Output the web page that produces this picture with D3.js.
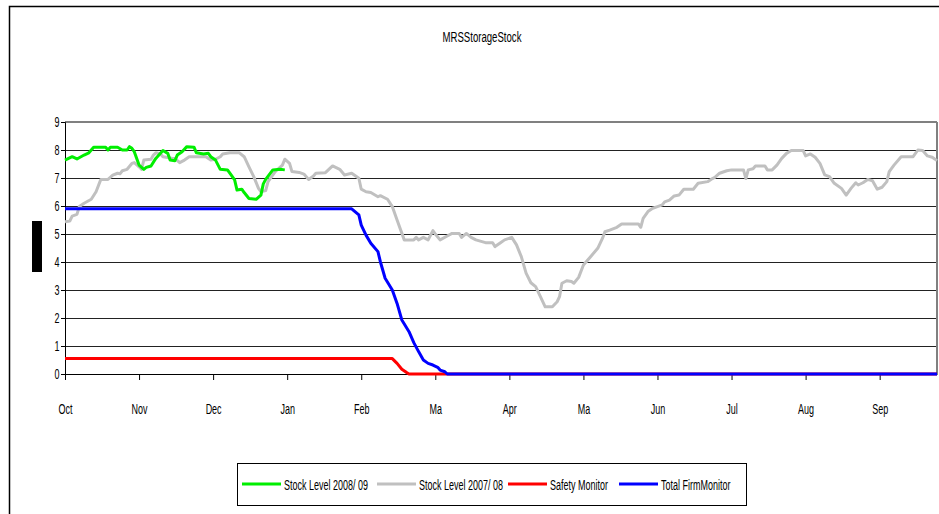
<!DOCTYPE html>
<html>
<head>
<meta charset="utf-8">
<script src="https://cdn.jsdelivr.net/npm/d3@7/dist/d3.min.js"></script>
<style>
  html, body { margin: 0; padding: 0; background: #fff; }
  svg { display: block; }
  text { font-family: "Liberation Sans", Arial, sans-serif; fill: #000; }
</style>
</head>
<body>
<svg id="chart" width="939" height="514"></svg>
<script>
// Storage stock, daily index from 1 Oct (0) to 30 Sep (365)
const title = "MRSStorageStock";
const monthLabels = ["Oct", "Nov", "Dec", "Jan", "Feb", "Ma", "Apr", "Ma", "Jun", "Jul", "Aug", "Sep"];
const monthTickDays = [0, 31, 62, 93, 124, 155, 186, 217, 248, 279, 310, 341];
const yTicks = [0, 1, 2, 3, 4, 5, 6, 7, 8, 9];

const seriesNames = ["Stock Level 2008/ 09", "Stock Level 2007/ 08", "Safety Monitor", "Total FirmMonitor"];
const seriesColors = ["#00ee00", "#c0c0c0", "#ff0000", "#0000ff"];

// [day, stock]
const stock2008 = [
  [0, 7.64], [3, 7.76], [5, 7.68], [8, 7.82], [10, 7.9], [12, 8.1], [17, 8.1], [18, 8.0],
  [19, 8.1], [22, 8.1], [24, 8.0], [26, 8.0], [27, 8.12], [28, 8.06], [29, 7.94], [31, 7.46],
  [33, 7.31], [34, 7.38], [36, 7.43], [38, 7.7], [41, 7.98], [43, 7.88], [44, 7.64], [46, 7.62],
  [47, 7.82], [49, 7.94], [51, 8.12], [54, 8.1], [55, 7.9], [58, 7.86], [60, 7.88], [61, 7.76],
  [63, 7.64], [65, 7.31], [68, 7.29], [69, 7.17], [71, 6.93], [72, 6.57], [74, 6.6], [75, 6.48],
  [77, 6.27], [80, 6.24], [82, 6.39], [83, 6.79], [84, 6.95], [87, 7.29], [90, 7.31], [92, 7.29]
];

const stock2007 = [
  [0, 5.44], [2, 5.46], [3, 5.64], [5, 5.7], [6, 5.98], [8, 6.1], [11, 6.24], [13, 6.51],
  [15, 6.95], [18, 6.95], [20, 7.1], [22, 7.17], [23, 7.15], [24, 7.26], [26, 7.31], [28, 7.52],
  [29, 7.55], [31, 7.4], [32, 7.31], [33, 7.64], [36, 7.67], [37, 7.82], [38, 7.9], [40, 7.86],
  [41, 7.76], [43, 7.73], [45, 7.7], [46, 7.7], [48, 7.55], [50, 7.64], [52, 7.76], [59, 7.76],
  [61, 7.64], [63, 7.67], [65, 7.76], [66, 7.86], [69, 7.9], [73, 7.9], [75, 7.76], [77, 7.4],
  [79, 7.05], [81, 6.63], [82, 6.51], [84, 6.55], [85, 6.87], [88, 7.23], [91, 7.46], [92, 7.67],
  [94, 7.52], [95, 7.23], [98, 7.2], [100, 7.14], [102, 6.95], [104, 7.07], [105, 7.17], [109, 7.19],
  [112, 7.43], [115, 7.31], [117, 7.11], [120, 7.17], [123, 6.99], [124, 6.6], [126, 6.51], [128, 6.48],
  [131, 6.33], [132, 6.37], [135, 6.24], [137, 5.98], [139, 5.5], [142, 4.79], [146, 4.79], [147, 4.88],
  [148, 4.79], [150, 4.88], [152, 4.79], [154, 5.12], [155, 5.0], [157, 4.79], [160, 4.93], [162, 5.02],
  [165, 5.02], [166, 4.88], [168, 5.02], [170, 4.88], [172, 4.79], [176, 4.69], [179, 4.69], [180, 4.55],
  [182, 4.67], [184, 4.79], [187, 4.88], [189, 4.61], [191, 4.19], [193, 3.6], [195, 3.26], [197, 3.12],
  [199, 2.76], [201, 2.4], [204, 2.4], [206, 2.58], [207, 2.76], [208, 3.24], [210, 3.33], [212, 3.3],
  [213, 3.24], [215, 3.45], [217, 3.89], [220, 4.19], [223, 4.49], [225, 4.85], [226, 5.08], [228, 5.14],
  [231, 5.24], [233, 5.36], [240, 5.36], [241, 5.24], [242, 5.56], [244, 5.8], [246, 5.92], [248, 5.98],
  [250, 6.04], [251, 6.15], [253, 6.21], [255, 6.36], [257, 6.39], [259, 6.6], [263, 6.6], [265, 6.81],
  [269, 6.87], [271, 6.98], [272, 7.02], [274, 7.17], [277, 7.26], [279, 7.29], [284, 7.29], [285, 6.98],
  [286, 7.29], [288, 7.33], [289, 7.43], [293, 7.43], [294, 7.29], [296, 7.29], [298, 7.46], [300, 7.7],
  [302, 7.88], [304, 7.98], [309, 7.98], [310, 7.79], [312, 7.86], [314, 7.74], [316, 7.52], [318, 7.11],
  [320, 7.05], [322, 6.81], [325, 6.63], [327, 6.39], [329, 6.63], [331, 6.83], [332, 6.75], [334, 6.83],
  [336, 6.95], [338, 6.9], [340, 6.6], [342, 6.67], [344, 6.87], [345, 7.23], [347, 7.46], [350, 7.76],
  [355, 7.76], [357, 8.0], [359, 7.98], [361, 7.79], [363, 7.74], [365, 7.62]
];

const safetyMonitor = [
  [0, 0.55], [137, 0.55], [139, 0.38], [141, 0.17], [143, 0.05], [144, 0], [365, 0]
];

const totalFirmMonitor = [
  [0, 5.9], [120, 5.9], [123, 5.68], [124, 5.32], [126, 4.96], [128, 4.67], [131, 4.37], [132, 4.01],
  [134, 3.42], [137, 3.0], [139, 2.52], [141, 1.93], [144, 1.51], [146, 1.12], [148, 0.8], [150, 0.5],
  [152, 0.38], [154, 0.32], [156, 0.24], [157, 0.14], [159, 0.08], [160, 0], [365, 0]
];

const svg = d3.select("#chart");
const W = 939, H = 514;
const plot = { left: 65, right: 937, top: 122, bottom: 374 };
const condense = "scale(0.6,1)";

const x = d3.scaleLinear().domain([0, 365]).range([plot.left, plot.right]);
const y = d3.scaleLinear().domain([0, 9]).range([plot.bottom, plot.top]);

// outer chart frame (runs off the right and bottom edges)
svg.append("rect")
  .attr("x", 9.5).attr("y", 6.5)
  .attr("width", W + 20).attr("height", H + 20)
  .attr("fill", "none").attr("stroke", "#000").attr("stroke-width", 1.5);

// title
svg.append("text")
  .attr("transform", "translate(482,42) scale(0.64,1)")
  .attr("text-anchor", "middle")
  .style("font-size", "15px")
  .text(title);

// y-axis title block
svg.append("rect")
  .attr("x", 32).attr("y", 221).attr("width", 10).attr("height", 51)
  .attr("fill", "#000");

// horizontal gridlines
svg.append("g")
  .selectAll("line")
  .data(yTicks.filter(v => v > 0 && v < 9))
  .join("line")
  .attr("x1", plot.left).attr("x2", plot.right)
  .attr("y1", d => Math.round(y(d)) + 0.5).attr("y2", d => Math.round(y(d)) + 0.5)
  .attr("stroke", "#222").attr("stroke-width", 1);

// plot frame: top and right edges in grey
svg.append("line")
  .attr("x1", plot.left).attr("x2", plot.right)
  .attr("y1", y(9)).attr("y2", y(9))
  .attr("stroke", "#808080").attr("stroke-width", 2);
svg.append("line")
  .attr("x1", plot.right).attr("x2", plot.right)
  .attr("y1", y(9)).attr("y2", y(0))
  .attr("stroke", "#808080").attr("stroke-width", 2);

// y axis
const yAxis = svg.append("g")
  .attr("transform", `translate(${plot.left},0)`)
  .call(d3.axisLeft(y).tickValues(yTicks).tickSize(4).tickPadding(5).tickFormat(d3.format("d")));
yAxis.select(".domain").attr("stroke", "#000");
yAxis.selectAll(".tick line").attr("stroke", "#000");
yAxis.selectAll(".tick text")
  .style("font-size", "15px")
  .style("font-family", "'Liberation Sans', Arial, sans-serif")
  .attr("transform", condense);

// x axis
const xAxis = svg.append("g")
  .attr("transform", `translate(0,${plot.bottom})`)
  .call(d3.axisBottom(x).tickValues(monthTickDays).tickSizeInner(6).tickSizeOuter(0)
    .tickPadding(23).tickFormat((d, i) => monthLabels[i]));
xAxis.select(".domain").attr("stroke", "#000");
xAxis.selectAll(".tick line").attr("stroke", "#000");
xAxis.selectAll(".tick text")
  .style("font-size", "15px")
  .style("font-family", "'Liberation Sans', Arial, sans-serif")
  .attr("transform", condense);

// series lines
const line = d3.line().x(d => x(d[0])).y(d => y(d[1]));
const seriesData = [stock2008, stock2007, safetyMonitor, totalFirmMonitor];
const drawOrder = [1, 0, 2, 3];
svg.append("g")
  .selectAll("path")
  .data(drawOrder)
  .join("path")
  .attr("d", i => line(seriesData[i]))
  .attr("fill", "none")
  .attr("stroke", i => seriesColors[i])
  .attr("stroke-width", 3)
  .attr("stroke-linejoin", "round");

// legend
const legend = svg.append("g");
legend.append("rect")
  .attr("x", 237.5).attr("y", 463.5).attr("width", 509).attr("height", 42)
  .attr("fill", "#fff").attr("stroke", "#000").attr("stroke-width", 1);
const legendX = [242, 377, 508, 619];
const legendItems = legend.selectAll("g.item")
  .data(seriesNames)
  .join("g")
  .attr("class", "item")
  .attr("transform", (d, i) => `translate(${legendX[i]},484)`);
legendItems.append("line")
  .attr("x1", 0).attr("x2", 39).attr("y1", 0).attr("y2", 0)
  .attr("stroke", (d, i) => seriesColors[i]).attr("stroke-width", 3);
legendItems.append("text")
  .attr("transform", `translate(42,5.5) ${condense}`)
  .style("font-size", "15px")
  .text(d => d);
</script>
</body>
</html>
